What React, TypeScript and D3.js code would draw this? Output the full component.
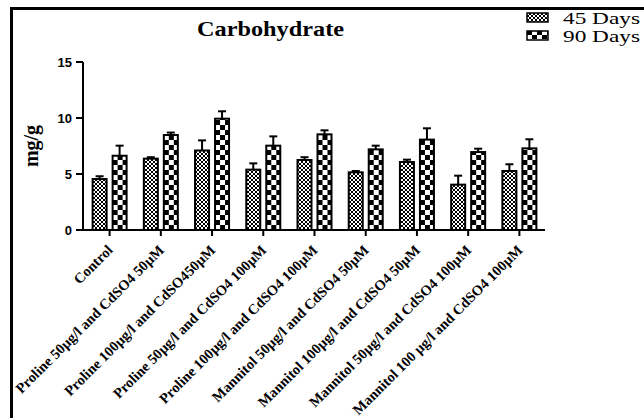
import React from "react";
import * as d3 from "d3";

const categories = [
  "Control",
  "Proline 50µg/l and CdSO4 50µM",
  "Proline 100µg/l and CdSO450µM",
  "Proline 50µg/l and CdSO4 100µM",
  "Proline 100µg/l and CdSO4 100µM",
  "Mannitol 50µg/l and CdSO4 50µM",
  "Mannitol 100µg/l and CdSO4 50µM",
  "Mannitol 50µg/l and CdSO4 100µM",
  "Mannitol 100 µg/l and CdSO4 100µM",
];
const days45 = [4.55, 6.37, 7.1, 5.39, 6.25, 5.15, 6.07, 4.05, 5.27];
const err45 = [0.25, 0.13, 0.9, 0.56, 0.25, 0.12, 0.21, 0.8, 0.6];
const days90 = [6.63, 8.48, 9.94, 7.53, 8.54, 7.2, 8.07, 6.96, 7.29];
const err90 = [0.9, 0.22, 0.66, 0.83, 0.36, 0.33, 1.01, 0.3, 0.81];
const yTicks = [0, 5, 10, 15];
const seriesNames = ["45 Days", "90 Days"];
const title = "Carbohydrate";
const yLabel = "mg/g";

export default function App() {
  const x = d3.scaleBand<string>().domain(categories).range([84, 545]).padding(0);
  const y = d3.scaleLinear().domain([0, 15]).range([230, 62]);
  const bw = 14;
  const serif = "'Liberation Serif', 'Times New Roman', serif";
  const sans = "'Liberation Sans', Arial, sans-serif";
  const cx = (c: string) => (x(c) as number) + x.bandwidth() / 2;

  const errBar = (xc: number, v: number, e: number, key: string) => (
    <g key={key} stroke="#000" strokeWidth={2}>
      <line x1={xc} x2={xc} y1={y(v)} y2={y(v + e)} />
      <line x1={xc - 4} x2={xc + 4} y1={y(v + e)} y2={y(v + e)} />
    </g>
  );

  return (
    <svg
      width={644}
      height={418}
      style={{ position: "absolute", left: 0, top: 0, background: "#fff" }}
    >
      <defs>
        <pattern id="p45" width={4} height={4} patternUnits="userSpaceOnUse">
          <rect width={4} height={4} fill="#fff" />
          <path d="M0,0 L4,4 M4,0 L0,4" stroke="#000" strokeWidth={1} />
        </pattern>
        {categories.map((c, i) => (
          <pattern
            key={c}
            id={`p90-${i}`}
            x={cx(c) + 3}
            y={y(0)}
            width={10}
            height={10}
            patternUnits="userSpaceOnUse"
          >
            <rect width={10} height={10} fill="#fff" />
            <rect x={0} y={0} width={5} height={5} fill="#000" />
            <rect x={5} y={5} width={5} height={5} fill="#000" />
          </pattern>
        ))}
        <pattern id="p90-leg" x={527} y={31} width={10} height={10} patternUnits="userSpaceOnUse">
          <rect width={10} height={10} fill="#fff" />
          <rect x={0} y={0} width={5} height={4} fill="#000" />
          <rect x={5} y={4} width={5} height={4} fill="#000" />
        </pattern>
      </defs>

      {/* frame */}
      <line x1={10} x2={644} y1={8.5} y2={8.5} stroke="#000" strokeWidth={3} />
      <line x1={11.5} x2={11.5} y1={7} y2={418} stroke="#000" strokeWidth={3} />

      {/* title */}
      <text
        x={197}
        y={36}
        fontFamily={serif}
        fontWeight="bold"
        fontSize={22}
        textLength={147}
        lengthAdjust="spacingAndGlyphs"
      >
        {title}
      </text>

      {/* legend */}
      <rect x={527} y={13} width={21} height={9} fill="url(#p45)" stroke="#000" strokeWidth={1.5} />
      <rect x={527} y={31} width={21} height={9} fill="url(#p90-leg)" stroke="#000" strokeWidth={1.5} />
      <text x={563} y={24} fontFamily={serif} fontSize={17} textLength={77} lengthAdjust="spacingAndGlyphs">
        {seriesNames[0]}
      </text>
      <text x={563} y={42} fontFamily={serif} fontSize={17} textLength={77} lengthAdjust="spacingAndGlyphs">
        {seriesNames[1]}
      </text>

      {/* y axis */}
      <line x1={83} x2={83} y1={y(15)} y2={y(0)} stroke="#000" strokeWidth={2} />
      {yTicks.map((t) => (
        <g key={t}>
          <line x1={76} x2={83} y1={y(t)} y2={y(t)} stroke="#000" strokeWidth={2} />
          <text
            x={72}
            y={y(t)}
            dy="0.35em"
            textAnchor="end"
            fontFamily={sans}
            fontWeight="bold"
            fontSize={13}
          >
            {t}
          </text>
        </g>
      ))}
      <text
        transform={`translate(38, ${(y(0) + y(15)) / 2}) rotate(-90)`}
        textAnchor="middle"
        fontFamily={serif}
        fontWeight="bold"
        fontSize={20}
      >
        {yLabel}
      </text>

      {/* bars */}
      {categories.map((c, i) => {
        const xc = cx(c);
        return (
          <g key={c}>
            {errBar(xc - 10, days45[i], err45[i], "e45")}
            {errBar(xc + 10, days90[i], err90[i], "e90")}
            <rect
              x={xc - 17}
              y={y(days45[i])}
              width={bw}
              height={y(0) - y(days45[i])}
              fill="url(#p45)"
              stroke="#000"
              strokeWidth={2}
            />
            <rect
              x={xc + 3}
              y={y(days90[i])}
              width={bw}
              height={y(0) - y(days90[i])}
              fill={`url(#p90-${i})`}
              stroke="#000"
              strokeWidth={2}
            />
          </g>
        );
      })}

      {/* x axis */}
      <line x1={83} x2={545} y1={y(0)} y2={y(0)} stroke="#000" strokeWidth={2} />
      {categories.map((c) => {
        const xc = cx(c);
        return (
          <g key={c}>
            <line x1={xc} x2={xc} y1={y(0)} y2={y(0) + 6} stroke="#000" strokeWidth={2} />
            <text
              transform={`translate(${xc + 4}, ${y(0) + 21}) rotate(-45)`}
              textAnchor="end"
              fontFamily={serif}
              fontWeight="bold"
              fontSize={14.5}
            >
              {c}
            </text>
          </g>
        );
      })}
    </svg>
  );
}
